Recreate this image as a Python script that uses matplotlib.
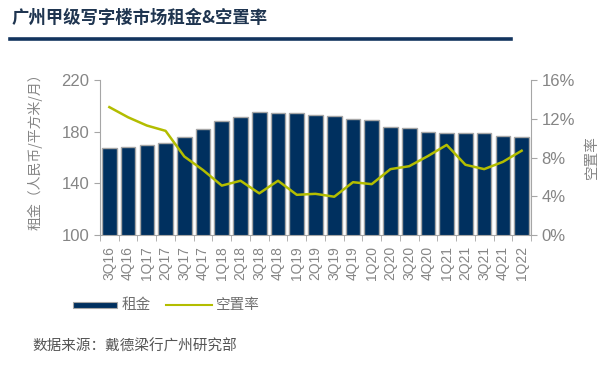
import numpy as np
import matplotlib.pyplot as plt

plt.rcParams['font.family'] = ['Noto Sans CJK SC', 'DejaVu Sans']

quarters = ['3Q16', '4Q16', '1Q17', '2Q17', '3Q17', '4Q17', '1Q18', '2Q18', '3Q18', '4Q18',
            '1Q19', '2Q19', '3Q19', '4Q19', '1Q20', '2Q20', '3Q20', '4Q20', '1Q21', '2Q21',
            '3Q21', '4Q21', '1Q22']
rent = [167, 168.5, 170, 171.5, 176, 182, 188.5, 191.6, 195.5, 194.2, 194.2, 193.2,
        192.4, 190.0, 189.3, 183.9, 183.1, 180.0, 178.7, 178.7, 178.7, 176.9, 176.1]
vacancy = [13.2, 12.15, 11.3, 10.75, 8.1, 6.7, 5.1, 5.6, 4.3, 5.6, 4.15, 4.25,
           3.95, 5.45, 5.25, 6.8, 7.1, 8.15, 9.3, 7.25, 6.8, 7.55, 8.7]

navy = '#00305f'
lime = '#b3bd00'
grey = '#858585'


def main():
    fig = plt.figure(figsize=(6.16, 3.65), dpi=100)
    ax = fig.add_axes([100 / 616, 1 - 235 / 365, 431 / 616, 155 / 365])
    x = np.arange(len(quarters))

    ax.bar(x, rent, width=0.78, bottom=0, color=navy, edgecolor='#a6a6a6', linewidth=1.0, zorder=2)
    ax.set_ylim(100, 220)
    ax.set_yticks([100, 140, 180, 220])
    ax.set_xlim(-0.5, len(quarters) - 0.5)
    ax.set_xticks(x)
    ax.set_xticklabels(quarters, rotation=90, fontsize=10, color=grey, family='Liberation Sans')
    ax.set_xticks(np.arange(-0.5, len(quarters)), minor=True)
    ax.tick_params(axis='x', which='major', length=0, pad=8)
    ax.tick_params(axis='x', which='minor', length=4, color='#a6a6a6')
    ax.tick_params(axis='y', labelsize=12, colors=grey, length=4, color='#a6a6a6')
    for lab in ax.get_yticklabels():
        lab.set_family('Liberation Sans')
    ax.spines['top'].set_visible(False)
    ax.spines['right'].set_visible(False)
    for s in ['left', 'bottom']:
        ax.spines[s].set_color('#a6a6a6')
    ax.set_ylabel('租金（人民币/平方米/月）', fontsize=10, color=grey)
    ax.yaxis.set_label_coords(-57 / 431, 0.56)

    ax2 = ax.twinx()
    ax2.plot(x, vacancy, color=lime, linewidth=1.8, zorder=3)
    ax2.set_ylim(0, 16)
    ax2.set_yticks([0, 4, 8, 12, 16])
    ax2.set_yticklabels(['0%', '4%', '8%', '12%', '16%'], family='Liberation Sans')
    ax2.tick_params(axis='y', labelsize=12, colors=grey, length=4, color='#a6a6a6')
    ax2.spines['top'].set_visible(False)
    ax2.spines['left'].set_visible(False)
    ax2.spines['bottom'].set_visible(False)
    ax2.spines['right'].set_color('#a6a6a6')
    ax2.set_ylabel('空置率', fontsize=10.5, color=grey, rotation=90)
    ax2.yaxis.set_label_coords(1 + 54 / 431, 0.5)

    # title and rule
    fig.text(12 / 616, 1 - 18 / 365, '广州甲级写字楼市场租金&空置率', fontsize=12.5, fontweight='bold',
             color='#1f3550', va='center', ha='left')
    fig.add_artist(plt.Line2D([10 / 616, 511 / 616], [1 - 38.5 / 365, 1 - 38.5 / 365],
                              color='#12345e', linewidth=2.6))

    # legend
    ly = 1 - 305 / 365
    fig.patches.append(plt.Rectangle((73 / 616, ly - 3 / 365), 44 / 616, 6 / 365, transform=fig.transFigure,
                                     facecolor=navy, edgecolor='#a6a6a6', linewidth=0.8))
    fig.text(122 / 616, ly, '租金', fontsize=10.5, color='#6f6f6f', va='center')
    fig.add_artist(plt.Line2D([166 / 616, 212 / 616], [ly, ly], color=lime, linewidth=1.5))
    fig.text(216 / 616, ly, '空置率', fontsize=10.5, color='#6f6f6f', va='center')

    fig.text(32 / 616, 1 - 347 / 365, '数据来源：戴德梁行广州研究部', fontsize=10.5, style='italic',
             color='#555555', va='center')

    fig.savefig('out.png', dpi=100)


if __name__ == "__main__":
    main()
